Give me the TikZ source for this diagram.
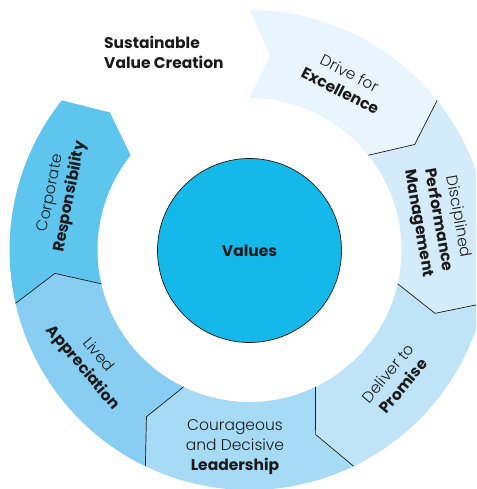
\documentclass[tikz,border=0pt]{standalone}
\usepackage{fontspec}
\setmainfont{Poppins}
\newfontfamily\lightfont{Poppins Light}
\definecolor{c0}{HTML}{E8F5FD}
\definecolor{c1}{HTML}{D4EBFA}
\definecolor{c2}{HTML}{BFE4F7}
\definecolor{c3}{HTML}{A7DAF4}
\definecolor{c4}{HTML}{88CEF2}
\definecolor{c5}{HTML}{5EC5EF}
\definecolor{valc}{HTML}{14B9EA}
\definecolor{ink}{HTML}{1A1A1A}
\begin{document}
\begin{tikzpicture}[x=1pt,y=1pt,
  sep/.style={draw=ink, line width=0.7pt, line join=miter},
  lab/.style={align=center, text=ink, font=\fontsize{15.5}{20}\selectfont, inner sep=0pt},
  ttl/.style={anchor=base west, text=ink, font=\fontsize{15.5}{20}\selectfont\bfseries, inner sep=0pt},
  valnode/.style={circle, minimum size=184pt, fill=valc, draw=ink, line width=0.7pt, text=ink, font=\fontsize{15.5}{20}\selectfont\bfseries, inner sep=0pt}
]
\useasboundingbox (-249.5,-239) rectangle (226.5,250);
\begin{scope}
\clip (-249.5,-239) rectangle (226.5,250);
\def\Ro{240}\def\Ri{152}\def\Rm{196}\def\dd{6}
\foreach \k/\col in {0/c0,1/c1,2/c2,3/c3,4/c4,5/c5} {
  \pgfmathsetmacro\a{90-\k*360/7}
  \pgfmathsetmacro\b{90-(\k+1)*360/7}
  \pgfmathsetmacro\am{\a-\dd}
  \pgfmathsetmacro\bm{\b-\dd}
  \fill[\col] (\a:\Ro) arc[start angle=\a, end angle=\b, radius=\Ro]
     -- (\bm:\Rm) -- (\b:\Ri) arc[start angle=\b, end angle=\a, radius=\Ri]
     -- (\am:\Rm) -- cycle;
}
\foreach \k in {1,...,5} {
  \pgfmathsetmacro\a{90-\k*360/7}
  \pgfmathsetmacro\am{\a-\dd}
  \draw[sep] (\a:\Ro) -- (\am:\Rm) -- (\a:\Ri);
}
\end{scope}
\node[valnode] (values) at (0,-0.5) {Values};
\node[ttl] (title1) at (-145.5,201.7) {Sustainable};
\node[ttl] (title2) at (-145.5,181.7) {Value Creation};
\node[lab, rotate=-27] (excellence) at (95.5,168) {{\lightfont Drive for}\\\textbf{Excellence}};
\node[lab, rotate=-80] (disciplined) at (188.5,30) {{\lightfont Disciplined}\\\textbf{Performance}\\\textbf{Management}};
\node[lab, rotate=50] (deliver) at (146,-129.5) {{\lightfont Deliver to}\\\textbf{Promise}};
\node[lab] (courageous) at (-14.5,-197) {{\lightfont Courageous}\\{\lightfont and Decisive}\\\textbf{Leadership}};
\node[lab, rotate=-50] (lived) at (-159.5,-112) {{\lightfont Lived}\\\textbf{Appreciation}};
\node[lab, rotate=79] (corporate) at (-188.5,55) {{\lightfont Corporate}\\\textbf{Responsibility}};
\end{tikzpicture}
\end{document}
